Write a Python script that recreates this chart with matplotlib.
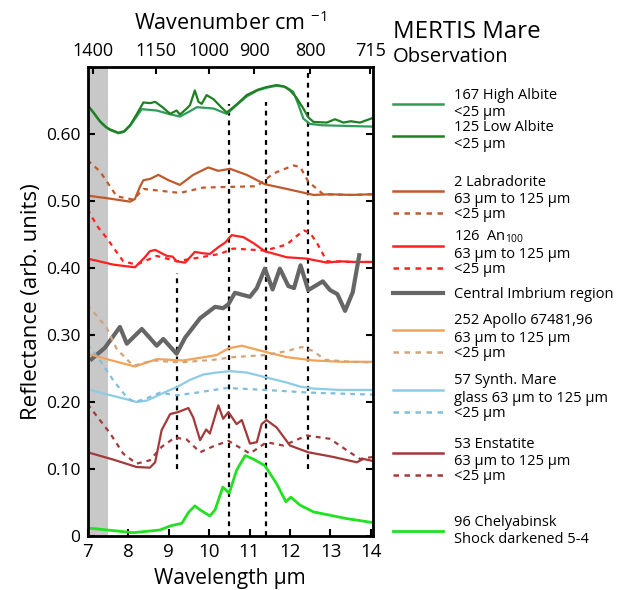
import numpy as np
import matplotlib
matplotlib.use("Agg")
import matplotlib.pyplot as plt
from matplotlib.lines import Line2D

plt.rcParams["font.family"] = ["Open Sans", "DejaVu Sans"]
plt.rcParams["mathtext.fontset"] = "custom"
plt.rcParams["mathtext.rm"] = "Open Sans"
plt.rcParams["mathtext.it"] = "Open Sans"

# ============================================
# Data
# ============================================
low_albite_x = [7.0, 7.15, 7.31, 7.45, 7.55, 7.76, 7.9, 8.05, 8.2, 8.38, 8.55, 8.67, 8.85, 9.04, 9.2, 9.28, 9.45,
                9.53, 9.65, 9.74, 9.82, 9.94, 10.11, 10.3, 10.44, 10.7, 10.93, 11.2, 11.42, 11.67, 11.85, 12.0,
                12.15, 12.33, 12.45, 12.58, 12.91, 13.11, 13.32, 13.5, 13.73, 14.05]
low_albite_y = [0.643, 0.632, 0.619, 0.611, 0.607, 0.602, 0.604, 0.613, 0.628, 0.647, 0.646, 0.648, 0.640, 0.630,
                0.635, 0.629, 0.638, 0.643, 0.665, 0.648, 0.645, 0.658, 0.652, 0.640, 0.632, 0.645, 0.658, 0.666,
                0.670, 0.673, 0.671, 0.665, 0.655, 0.638, 0.625, 0.618, 0.617, 0.622, 0.617, 0.619, 0.617, 0.624]

high_albite_x = [7.0, 7.15, 7.31, 7.45, 7.55, 7.76, 7.9, 8.05, 8.2, 8.34, 8.71, 9.0, 9.28, 9.5, 9.70, 10.11, 10.44,
                 10.7, 10.93, 11.2, 11.42, 11.67, 11.9, 12.08, 12.2, 12.33, 12.49, 12.8, 13.4, 14.05]
high_albite_y = [0.643, 0.631, 0.618, 0.610, 0.606, 0.601, 0.603, 0.612, 0.625, 0.637, 0.635, 0.630, 0.626, 0.633,
                 0.640, 0.638, 0.630, 0.644, 0.656, 0.665, 0.669, 0.672, 0.670, 0.663, 0.645, 0.623, 0.615, 0.613,
                 0.612, 0.611]

labr_x = [7.0, 7.5, 8.05, 8.17, 8.3, 8.38, 8.55, 8.75, 9.0, 9.28, 9.61, 9.98, 10.23, 10.52, 10.93, 11.38, 11.92,
          12.58, 12.99, 13.5, 14.05]
labr_y = [0.508, 0.504, 0.499, 0.503, 0.522, 0.531, 0.533, 0.539, 0.531, 0.524, 0.539, 0.550, 0.545, 0.548, 0.539,
          0.525, 0.518, 0.509, 0.510, 0.509, 0.510]
labr_fine_x = [7.0, 7.31, 7.72, 8.13, 8.38, 9.28, 9.86, 10.5, 11.18, 11.59, 12.08, 12.25, 12.45, 12.82, 13.5, 14.05]
labr_fine_y = [0.561, 0.544, 0.507, 0.502, 0.518, 0.512, 0.520, 0.521, 0.522, 0.541, 0.553, 0.551, 0.529, 0.510,
               0.509, 0.510]

an_x = [7.0, 7.64, 8.17, 8.4, 8.54, 8.67, 8.96, 9.1, 9.2, 9.41, 9.65, 9.85, 10.02, 10.23, 10.4, 10.56, 10.85,
        11.1, 11.38, 11.92, 12.41, 12.91, 13.23, 13.6, 14.05]
an_y = [0.414, 0.405, 0.401, 0.415, 0.425, 0.427, 0.418, 0.417, 0.410, 0.408, 0.424, 0.422, 0.421, 0.431, 0.438,
        0.449, 0.446, 0.437, 0.425, 0.416, 0.414, 0.408, 0.410, 0.409, 0.409]
an_fine_x = [7.0, 7.1, 7.27, 7.47, 7.88, 8.21, 8.71, 9.2, 9.70, 10.27, 10.6, 11.38, 11.92, 12.15, 12.35, 12.5,
             12.66, 12.91, 13.5, 14.05]
an_fine_y = [0.488, 0.477, 0.460, 0.445, 0.410, 0.405, 0.418, 0.410, 0.415, 0.421, 0.429, 0.426, 0.435, 0.447,
             0.456, 0.452, 0.438, 0.410, 0.409, 0.409]

imbrium_x = [7.10, 7.43, 7.80, 7.97, 8.34, 8.71, 8.87, 9.20, 9.41, 9.78, 10.15, 10.35, 10.48, 10.64, 11.01, 11.18,
             11.38, 11.57, 11.75, 11.96, 12.10, 12.26, 12.45, 12.81, 12.99, 13.17, 13.36, 13.55, 13.71]
imbrium_y = [0.264, 0.281, 0.312, 0.287, 0.309, 0.284, 0.294, 0.272, 0.296, 0.325, 0.342, 0.340, 0.346, 0.363,
             0.357, 0.370, 0.399, 0.368, 0.399, 0.373, 0.370, 0.404, 0.367, 0.380, 0.367, 0.361, 0.336, 0.364, 0.419]

apollo_x = [7.0, 7.6, 8.17, 8.71, 9.37, 9.78, 10.19, 10.48, 10.81, 11.38, 11.92, 12.58, 13.3, 14.05]
apollo_y = [0.272, 0.262, 0.253, 0.264, 0.262, 0.266, 0.270, 0.280, 0.284, 0.275, 0.267, 0.262, 0.260, 0.260]
apollo_fine_x = [7.0, 7.47, 7.72, 8.13, 8.62, 9.28, 10.11, 10.60, 11.38, 11.92, 12.29, 12.58, 12.86, 13.5, 14.05]
apollo_fine_y = [0.345, 0.311, 0.279, 0.254, 0.262, 0.259, 0.263, 0.267, 0.270, 0.276, 0.282, 0.276, 0.263,
                 0.260, 0.259]

glass_x = [7.0, 7.31, 7.64, 7.97, 8.21, 8.46, 8.71, 8.96, 9.20, 9.53, 9.86, 10.19, 10.52, 10.93, 11.26, 11.59,
           11.92, 12.25, 12.58, 13.23, 14.05]
glass_y = [0.219, 0.214, 0.209, 0.204, 0.200, 0.202, 0.209, 0.216, 0.222, 0.233, 0.241, 0.244, 0.246, 0.244,
           0.239, 0.234, 0.229, 0.223, 0.220, 0.218, 0.218]
glass_fine_x = [7.0, 7.31, 7.64, 7.97, 8.15, 8.4, 8.79, 9.20, 9.70, 10.44, 11.38, 12.49, 14.05]
glass_fine_y = [0.286, 0.262, 0.232, 0.207, 0.200, 0.204, 0.214, 0.210, 0.214, 0.221, 0.218, 0.214, 0.211]

enst_x = [7.0, 7.64, 8.21, 8.54, 8.67, 8.83, 9.04, 9.24, 9.49, 9.61, 9.78, 9.93, 10.02, 10.23, 10.35, 10.48,
          10.68, 10.81, 11.01, 11.18, 11.30, 11.42, 11.67, 12.0, 12.45, 13.07, 13.65, 13.81, 14.05]
enst_y = [0.125, 0.114, 0.103, 0.102, 0.110, 0.158, 0.182, 0.185, 0.191, 0.177, 0.143, 0.159, 0.153, 0.195, 0.175,
          0.185, 0.167, 0.173, 0.138, 0.140, 0.167, 0.173, 0.162, 0.135, 0.125, 0.118, 0.110, 0.115, 0.112]
enst_fine_x = [7.0, 7.56, 7.88, 8.21, 8.54, 8.83, 9.16, 9.45, 9.78, 10.11, 10.48, 11.01, 11.42, 11.84, 12.41,
               12.99, 13.40, 13.73, 14.05]
enst_fine_y = [0.197, 0.153, 0.123, 0.108, 0.113, 0.133, 0.147, 0.144, 0.125, 0.134, 0.142, 0.123, 0.140, 0.135,
               0.150, 0.145, 0.128, 0.115, 0.118]

chel_x = [7.0, 8.13, 8.79, 9.04, 9.33, 9.49, 9.65, 9.78, 10.02, 10.15, 10.34, 10.50, 10.68, 10.89, 11.09, 11.38,
          11.67, 11.90, 12.02, 12.25, 12.58, 13.40, 14.05]
chel_y = [0.012, 0.005, 0.009, 0.015, 0.019, 0.035, 0.045, 0.039, 0.030, 0.039, 0.073, 0.064, 0.098, 0.120, 0.115,
          0.105, 0.078, 0.051, 0.058, 0.046, 0.036, 0.026, 0.020]

# vertical reference lines (wavelength, lower and upper reflectance)
vline_x = [9.2, 10.5, 11.4, 12.45]
vline_lo = [0.10, 0.0, 0.0, 0.10]
vline_hi = [0.393, 0.645, 0.648, 0.70]

wavenumbers = [1400, 1150, 1000, 900, 800, 715]
yticks = [0, 0.1, 0.2, 0.3, 0.4, 0.5, 0.6]
ytick_labels = ["0", "0.10", "0.20", "0.30", "0.40", "0.50", "0.60"]

# ============================================
# Colours
# ============================================
c_high = "#2f9c5a"
c_low = "#207f22"
c_labr = "#c05a2c"
c_an = "#ff2020"
c_imb = "#666666"
c_apollo = "#f3a257"
c_apollo_f = "#d2a47c"
c_glass = "#8ecbe6"
c_glass_f = "#82bedb"
c_enst = "#a33a3a"
c_chel = "#22e022"

dots = (0, (2.2, 2.2))

# ============================================
# Figure
# ============================================
fig = plt.figure(figsize=(6.19, 5.90), dpi=100)
ax = fig.add_axes([0.1414, 0.0915, 0.4612, 0.7950])

ax.axvspan(7.0, 7.5, color="#c8c8c8", lw=0, zorder=0)

ax.vlines(vline_x, vline_lo, vline_hi, colors="black", linestyles=dots, lw=1.6, zorder=1)

lw = 1.6
ax.plot(high_albite_x, high_albite_y, color=c_high, lw=lw)
ax.plot(low_albite_x, low_albite_y, color=c_low, lw=lw)
ax.plot(labr_x, labr_y, color=c_labr, lw=lw)
ax.plot(labr_fine_x, labr_fine_y, color=c_labr, lw=lw, ls=dots)
ax.plot(an_x, an_y, color=c_an, lw=lw)
ax.plot(an_fine_x, an_fine_y, color=c_an, lw=lw, ls=dots)
ax.plot(imbrium_x, imbrium_y, color=c_imb, lw=3)
ax.plot(apollo_x, apollo_y, color=c_apollo, lw=lw)
ax.plot(apollo_fine_x, apollo_fine_y, color=c_apollo_f, lw=lw, ls=dots)
ax.plot(glass_x, glass_y, color=c_glass, lw=lw)
ax.plot(glass_fine_x, glass_fine_y, color=c_glass_f, lw=lw, ls=dots)
ax.plot(enst_x, enst_y, color=c_enst, lw=lw)
ax.plot(enst_fine_x, enst_fine_y, color=c_enst, lw=lw, ls=dots)
ax.plot(chel_x, chel_y, color=c_chel, lw=2)

ax.set_xlim(7.0, 14.05)
ax.set_ylim(0, 0.70)
ax.set_xticks(range(7, 15))
ax.set_yticks(yticks)
ax.set_yticklabels(ytick_labels)
ax.tick_params(direction="in", length=5, width=1.5, labelsize=12.5, right=True, pad=5)
ax.tick_params(axis="x", labelsize=13.5)
for s in ax.spines.values():
    s.set_linewidth(2)

ax.set_xlabel("Wavelength µm", fontsize=15, labelpad=5)
ax.set_ylabel("Reflectance (arb. units)", fontsize=16, labelpad=3)

# top wavenumber axis
top = ax.twiny()
top.set_xlim(ax.get_xlim())
top.set_xticks([10000.0 / w for w in wavenumbers])
top.set_xticklabels([str(w) for w in wavenumbers])
top.tick_params(direction="in", length=5, width=1.5, labelsize=13, pad=5)
top.set_xlabel("Wavenumber cm $^{-1}$", fontsize=15.5, labelpad=9)

# ============================================
# Legend (groups placed by hand on the right)
# ============================================
fig.text(393 / 619, 1 - 32 / 590, "MERTIS Mare", fontsize=17.3, va="center", ha="left")
fig.text(393 / 619, 1 - 57 / 590, "Observation", fontsize=14.6, va="center", ha="left")

def H(color, ls="-", w=1.8):
    return Line2D([], [], color=color, ls=ls, lw=w)

groups = [
    (94, [(H(c_high), "167 High Albite\n<25 µm"), (H(c_low), "125 Low Albite\n<25 µm")]),
    (181, [(H(c_labr), "2 Labradorite\n63 µm to 125 µm"), (H(c_labr, dots), "<25 µm")]),
    (235, [(H(c_an), "126  An$_{100}$\n63 µm to 125 µm"), (H(c_an, dots), "<25 µm")]),
    (294, [(H(c_imb, w=3), "Central Imbrium region")]),
    (320, [(H(c_apollo), "252 Apollo 67481,96\n63 µm to 125 µm"), (H(c_apollo_f, dots), "<25 µm")]),
    (380, [(H(c_glass), "57 Synth. Mare\nglass 63 µm to 125 µm"), (H(c_glass_f, dots), "<25 µm")]),
    (443, [(H(c_enst), "53 Enstatite\n63 µm to 125 µm"), (H(c_enst, dots), "<25 µm")]),
    (521, [(H(c_chel, w=2), "96 Chelyabinsk\nShock darkened 5-4")]),
]
for ytop, items in groups:
    leg = fig.legend([h for h, _ in items], [t for _, t in items],
                     loc="upper left", bbox_to_anchor=(393 / 619, 1 - (ytop - 6.5) / 590),
                     frameon=False, fontsize=10.5, handlelength=3.4, handletextpad=0.8,
                     labelspacing=0.0, borderpad=0, borderaxespad=0)

fig.savefig("out.png", dpi=100)
